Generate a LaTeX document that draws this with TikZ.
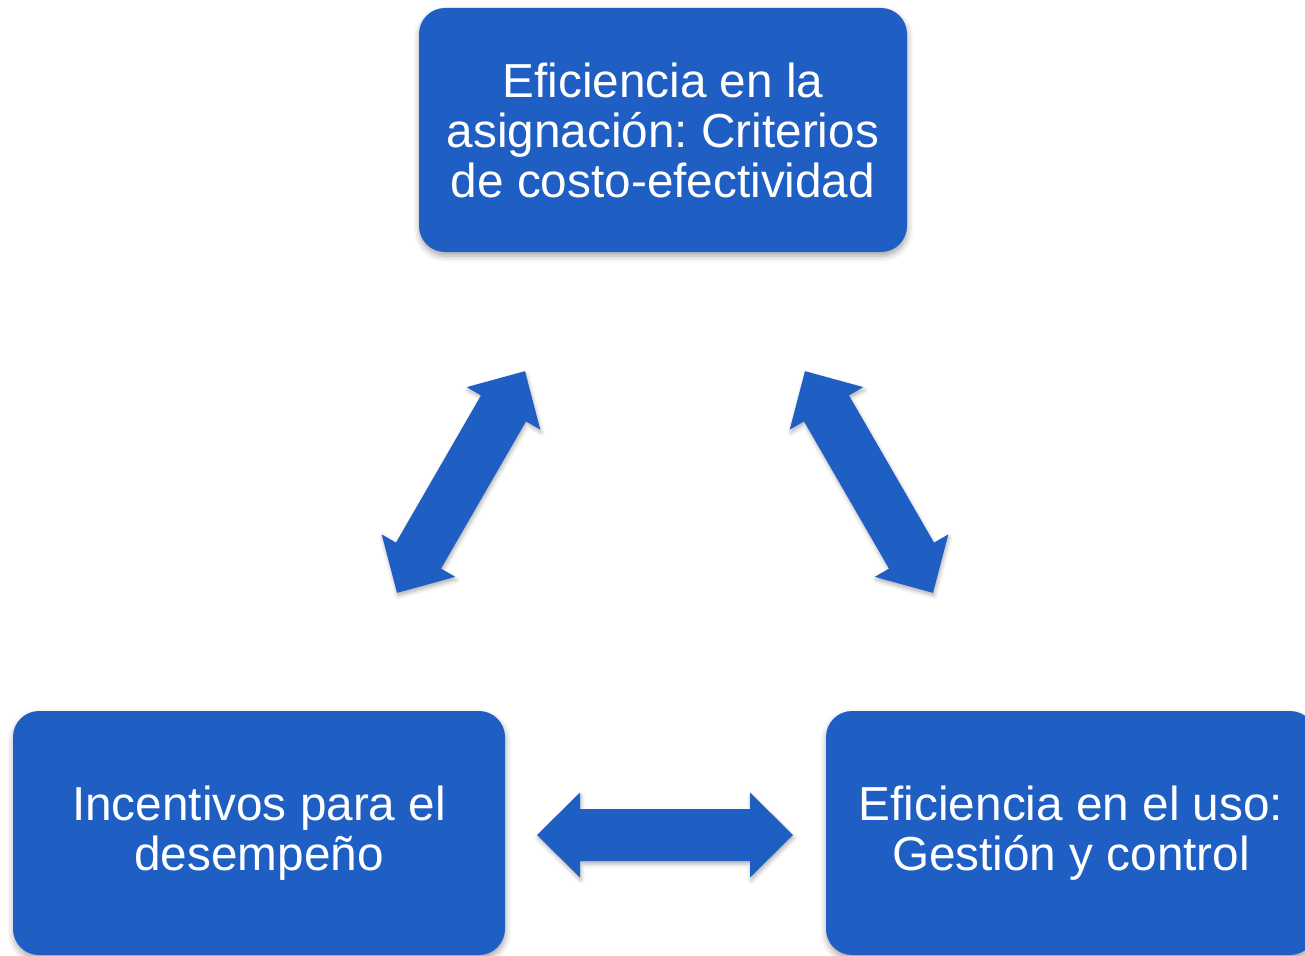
\documentclass[tikz,border=0pt]{standalone}
\usepackage{fontspec}
\setmainfont{Liberation Sans}
\frenchspacing
\usetikzlibrary{shadows,shadows.blur}
\definecolor{boxblue}{RGB}{31,95,196}
\tikzset{
  box/.style={fill=boxblue, rounded corners=26pt, text=white, align=center,
    minimum height=244pt, inner sep=0pt,
    font=\fontsize{47.7}{50}\selectfont,
    blur shadow={shadow xshift=0.5pt, shadow yshift=-4pt, shadow blur radius=6pt, shadow opacity=35}},
  arrowfill/.style={fill=boxblue,
    blur shadow={shadow xshift=1pt, shadow yshift=-3pt, shadow blur radius=4pt, shadow opacity=30}},
  dblarrow/.pic={
    \fill[arrowfill] (-128,0) -- (-85,42.5) -- (-85,26) -- (85,26) -- (85,42.5)
      -- (128,0) -- (85,-42.5) -- (85,-26) -- (-85,-26) -- (-85,-42.5) -- cycle;
  }
}
\begin{document}
\begin{tikzpicture}[x=1pt,y=-1pt]
\useasboundingbox (0,0) rectangle (1305,955);
\clip (0,0) rectangle (1305,955);
\node[box, minimum width=488pt] (top) at (663,130)
  {Eficiencia en la\\asignación: Criterios\\de costo-efectividad};
\node[box, minimum width=492pt] (left) at (259,833)
  {Incentivos para el\\desempeño};
\node[box, minimum width=490pt] (right) at (1071,833)
  {Eficiencia en el uso:\\Gestión y control};
\coordinate (aL) at (461,482);
\coordinate (aR) at (869,482);
\coordinate (aB) at (665,835);
\pic[rotate=60] at (aL) {dblarrow};
\pic[rotate=-60] at (aR) {dblarrow};
\pic at (aB) {dblarrow};
\end{tikzpicture}
\end{document}
